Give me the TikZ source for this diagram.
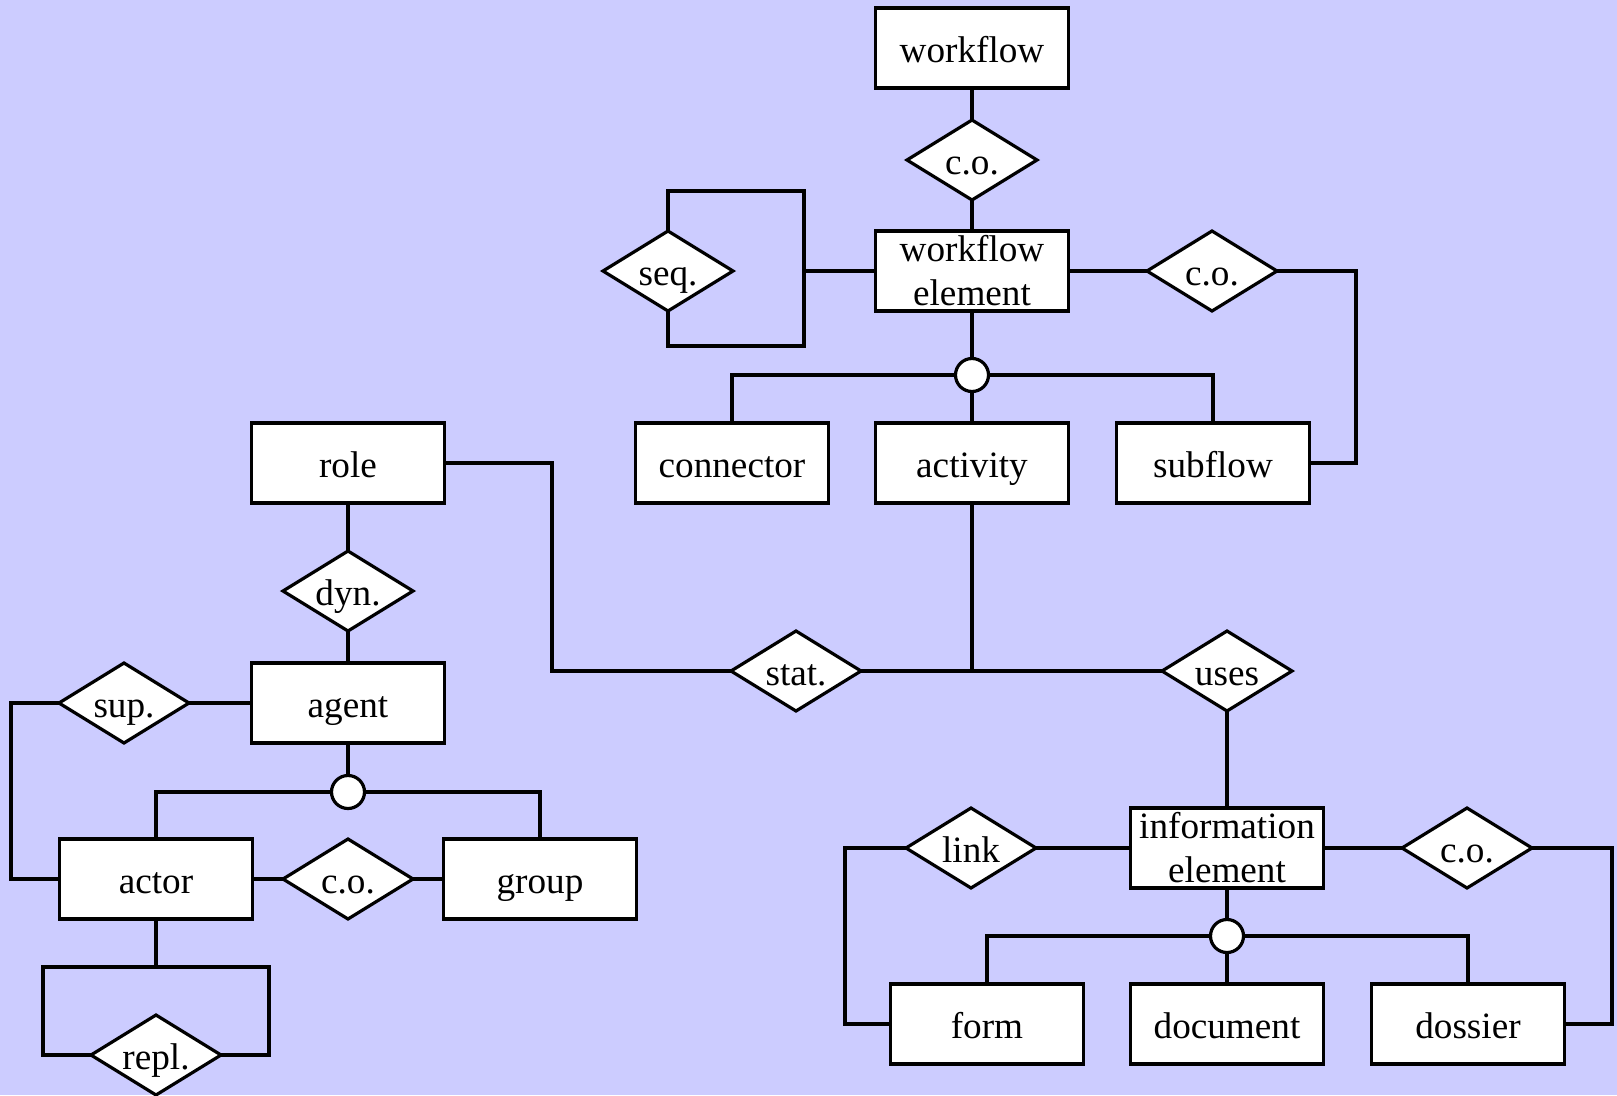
\documentclass[tikz,border=0pt]{standalone}
\usepackage{fontspec}
\setmainfont{Liberation Serif}
\usetikzlibrary{shapes.geometric}
\definecolor{bg}{RGB}{204,204,255}
\begin{document}
\begin{tikzpicture}[x=1pt,y=-1pt,line width=3.2pt,
  txt/.style={font=\fontsize{37.2}{44}\selectfont},
  entbase/.style={txt,draw,fill=white,rectangle,minimum width=193pt,minimum height=80pt,inner sep=0pt,outer sep=0pt,align=center},
  ent/.style={entbase,text height=28pt,text depth=0pt},
  enttwo/.style={entbase},
  rel/.style={txt,draw,fill=white,diamond,aspect=1.625,minimum width=130pt,minimum height=80pt,inner sep=0pt,outer sep=0pt,text height=28pt,text depth=0pt},
  isa/.style={draw,fill=white,circle,minimum size=33pt,inner sep=0pt,outer sep=0pt}]
\fill[bg] (0,0) rectangle (1617,1095);
\useasboundingbox (0,0) rectangle (1617,1095);
% workflow part
\node[ent] (wf) at (972,48) {workflow};
\node[rel] (co1) at (972,160) {c.o.};
\node[enttwo] (wfe) at (972,271) {workflow\\element};
\node[rel] (seq) at (668,271) {seq.};
\node[rel] (co2) at (1212,271) {c.o.};
\node[isa] (isa1) at (972,375) {};
\node[ent] (conn) at (732,463) {connector};
\node[ent] (act) at (972,463) {activity};
\node[ent] (sub) at (1213,463) {subflow};
\coordinate (sqtr) at (804,191);
\coordinate (sqbr) at (804,346);
\coordinate (cor) at (1356,271);
\draw (wf.south) -- (co1.north);
\draw (co1.south) -- (wfe.north);
\draw (seq.north) |- (sqtr) -- (sqbr) -| (seq.south);
\draw (wfe.west) -- (sqtr |- wfe.west);
\draw (wfe.east) -- (co2.west);
\draw (co2.east) -- (cor) |- (sub.east);
\draw (wfe.south) -- (isa1.north);
\draw (isa1.west) -| (conn.north);
\draw (isa1.east) -| (sub.north);
\draw (isa1.south) -- (act.north);
% role / agent part
\node[ent] (role) at (348,463) {role};
\node[rel] (dyn) at (348,591) {dyn.};
\node[ent] (agent) at (348,703) {agent};
\node[rel] (sup) at (124,703) {sup.};
\node[isa] (isa3) at (348,792) {};
\node[ent] (actor) at (156,879) {actor};
\node[rel] (co4) at (348,879) {c.o.};
\node[ent] (group) at (540,879) {group};
\node[rel] (repl) at (156,1055) {repl.};
\coordinate (sk) at (11,879);
\coordinate (rl1) at (43,967);
\coordinate (rl2) at (269,967);
\draw (role.south) -- (dyn.north);
\draw (dyn.south) -- (agent.north);
\draw (agent.west) -- (sup.east);
\draw (sup.west) -| (sk) -- (actor.west);
\draw (agent.south) -- (isa3.north);
\draw (isa3.west) -| (actor.north);
\draw (isa3.east) -| (group.north);
\draw (actor.east) -- (co4.west);
\draw (co4.east) -- (group.west);
\draw (actor.south) -- (actor.south |- rl1);
\draw (repl.west) -| (rl1) -- (rl2) |- (repl.east);
% middle relations
\node[rel] (stat) at (796,671) {stat.};
\node[rel] (uses) at (1227,671) {uses};
\coordinate (rk1) at (552,671);
\draw (role.east) -| (rk1) -- (stat.west);
\draw (stat.east) -- (uses.west);
\draw (act.south) -- (act.south |- stat.east);
% information part
\node[enttwo] (info) at (1227,848) {information\\element};
\node[rel] (link) at (971,848) {link};
\node[rel] (co3) at (1467,848) {c.o.};
\node[isa] (isa2) at (1227,936) {};
\node[ent] (form) at (987,1024) {form};
\node[ent] (doc) at (1227,1024) {document};
\node[ent] (dos) at (1468,1024) {dossier};
\coordinate (lk) at (845,1024);
\coordinate (rk) at (1612,1024);
\draw (uses.south) -- (info.north);
\draw (info.west) -- (link.east);
\draw (link.west) -| (lk) -- (form.west);
\draw (info.east) -- (co3.west);
\draw (co3.east) -| (rk) -- (dos.east);
\draw (info.south) -- (isa2.north);
\draw (isa2.west) -| (form.north);
\draw (isa2.east) -| (dos.north);
\draw (isa2.south) -- (doc.north);
\end{tikzpicture}
\end{document}
